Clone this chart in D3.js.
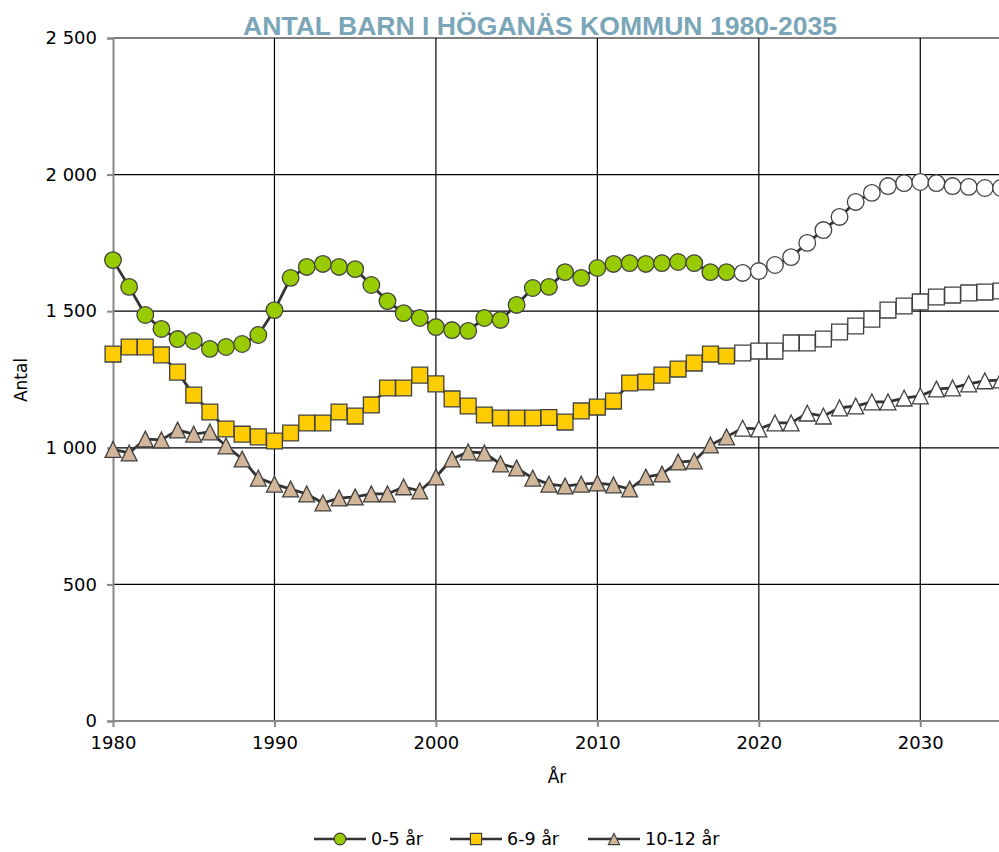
<!DOCTYPE html>
<html>
<head>
<meta charset="utf-8">
<script src="https://cdn.jsdelivr.net/npm/d3@7"></script>
<style>
  body { margin: 0; background: #fff; }
  text { font-family: "DejaVu Sans", Verdana, sans-serif; fill: #000; }
</style>
</head>
<body>
<svg id="chart" width="999" height="852"></svg>
<script>
const years = d3.range(1980, 2036);
const firstProjection = 2019;

const age0to5 = [1687, 1589, 1486, 1435, 1398, 1391, 1362, 1369, 1380, 1413,
  1504, 1622, 1662, 1673, 1662, 1654, 1596, 1537, 1493, 1475,
  1442, 1431, 1428, 1475, 1468, 1523, 1585, 1589, 1643, 1622,
  1658, 1673, 1676, 1673, 1676, 1680, 1676, 1643, 1643, 1640,
  1647, 1669, 1698, 1750, 1797, 1845, 1900, 1933, 1958, 1969,
  1973, 1969, 1958, 1955, 1951, 1951];
const age6to9 = [1343, 1369, 1369, 1340, 1277, 1193, 1131, 1069, 1050, 1040,
  1025, 1054, 1091, 1091, 1131, 1116, 1157, 1219, 1219, 1266,
  1234, 1179, 1153, 1120, 1109, 1109, 1109, 1111, 1094, 1135,
  1149, 1171, 1237, 1241, 1266, 1288, 1310, 1343, 1336, 1347,
  1354, 1354, 1384, 1384, 1398, 1424, 1446, 1471, 1504, 1519,
  1534, 1552, 1559, 1567, 1570, 1574];
const age10to12 = [994, 981, 1032, 1029, 1065, 1050, 1058, 1007, 959, 889,
  867, 849, 831, 798, 816, 820, 831, 831, 857, 842,
  893, 959, 985, 981, 941, 926, 889, 867, 860, 867,
  871, 864, 849, 893, 904, 948, 952, 1010, 1040, 1072,
  1069, 1091, 1091, 1127, 1116, 1146, 1153, 1168, 1168, 1182,
  1190, 1215, 1219, 1234, 1245, 1248];

const yTicks = [0, 500, 1000, 1500, 2000, 2500];
const xTicks = [1980, 1990, 2000, 2010, 2020, 2030];

// triangle with equal width and height, centred on its bounding box
const boxTriangle = {
  draw(ctx, size) {
    const h = Math.sqrt(size) / 2;
    ctx.moveTo(0, -h);
    ctx.lineTo(h, h);
    ctx.lineTo(-h, h);
    ctx.closePath();
  }
};

const series = [
  { name: "0-5 år", values: age0to5, shape: d3.symbolCircle, size: 217, fill: "#99cc00" },
  { name: "6-9 år", values: age6to9, shape: d3.symbolSquare, size: 250, fill: "#ffcc00" },
  { name: "10-12 år", values: age10to12, shape: boxTriangle, size: 250, fill: "#d2b69a" }
];

const svg = d3.select("#chart");
const plotLeft = 113, plotRight = 1001, plotTop = 38, plotBottom = 721;

const x = d3.scaleLinear().domain([1980, 2035]).range([plotLeft, plotRight]);
const y = d3.scaleLinear().domain([0, 2500]).range([plotBottom, plotTop]);

// grid
svg.append("g").selectAll("line")
  .data(yTicks.filter(d => d > 0))
  .join("line")
  .attr("x1", plotLeft).attr("x2", plotRight)
  .attr("y1", d => y(d)).attr("y2", d => y(d))
  .attr("stroke", "#000").attr("stroke-width", 1.2);
svg.append("g").selectAll("line")
  .data(xTicks.filter(d => d > 1980))
  .join("line")
  .attr("x1", d => x(d)).attr("x2", d => x(d))
  .attr("y1", plotTop).attr("y2", plotBottom)
  .attr("stroke", "#000").attr("stroke-width", 1.2);

// axes
const yAxis = svg.append("g")
  .attr("transform", "translate(" + plotLeft + ",0)")
  .call(d3.axisLeft(y).tickValues(yTicks).tickSize(6).tickPadding(10)
    .tickFormat(d => d3.format(",")(d).replace(",", " ")));
const xAxis = svg.append("g")
  .attr("transform", "translate(0," + plotBottom + ")")
  .call(d3.axisBottom(x).tickValues(xTicks).tickSize(6).tickPadding(9).tickFormat(d3.format("d")));
[yAxis, xAxis].forEach(a => {
  a.select(".domain").attr("stroke", "#888").attr("stroke-width", 2);
  a.selectAll(".tick line").attr("stroke", "#888").attr("stroke-width", 2);
  a.selectAll(".tick text").style("font-family", "'DejaVu Sans', sans-serif")
    .style("font-size", "18px").attr("fill", "#000");
});
xAxis.select(".domain").attr("d", "M" + plotLeft + ",0H" + plotRight);

// axis titles
svg.append("text").attr("x", 557).attr("y", 783)
  .attr("text-anchor", "middle").style("font-size", "17px").text("År");
svg.append("text").attr("transform", "translate(27,380) rotate(-90)")
  .attr("text-anchor", "middle").style("font-size", "17px").text("Antal");

// title
svg.append("text").attr("x", 540).attr("y", 35)
  .attr("text-anchor", "middle")
  .style("font-family", "'Liberation Sans Narrow', 'Liberation Sans', sans-serif")
  .style("font-size", "26px").style("font-weight", "bold")
  .attr("textLength", 594).attr("lengthAdjust", "spacingAndGlyphs")
  .style("fill", "#7aa6b8")
  .text("ANTAL BARN I HÖGANÄS KOMMUN 1980-2035");

// lines and markers
const line = d3.line().x((d, i) => x(years[i])).y(d => y(d));
series.forEach(s => {
  svg.append("path").datum(s.values)
    .attr("d", line).attr("fill", "none")
    .attr("stroke", "#333").attr("stroke-width", 2.8);
  svg.append("g").selectAll("path")
    .data(s.values)
    .join("path")
    .attr("transform", (d, i) => "translate(" + x(years[i]) + "," + y(d) + ")")
    .attr("d", d3.symbol().type(s.shape).size(s.size))
    .attr("fill", (d, i) => years[i] >= firstProjection ? "#fff" : s.fill)
    .attr("stroke", "#404040").attr("stroke-width", 1.3);
});

// legend
const legendX = [314, 450, 588];
series.forEach((s, i) => {
  const g = svg.append("g").attr("transform", "translate(" + legendX[i] + ",839)");
  g.append("line").attr("x1", 0).attr("x2", 52).attr("stroke", "#333").attr("stroke-width", 2.5);
  g.append("path").attr("transform", "translate(26,0)")
    .attr("d", d3.symbol().type(s.shape).size(s.size * 0.5))
    .attr("fill", s.fill).attr("stroke", "#404040").attr("stroke-width", 1.2);
  g.append("text").attr("x", 57).attr("y", 6).style("font-size", "17.5px").text(s.name);
});
</script>
</body>
</html>
